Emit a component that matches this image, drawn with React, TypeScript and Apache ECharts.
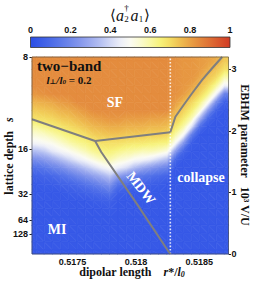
import React, { useEffect, useRef } from 'react';
import * as echarts from 'echarts';

// axis ticks
const dipolarTicks = [0.5175, 0.518, 0.5185];
const ebhmTicks = [0, 1, 2, 3];
const depthLabels = [8, 16, 32, 64, 128];
const depthAtEbhm = [3.2, 1.706, 0.97, 0.547, 0.317];
const colorbarTicks = [0, 0.2, 0.4, 0.6, 0.8, 1];

const X_MIN = 0.51718;
const X_MAX = 0.51873;
const Y_MIN = 0;
const Y_MAX = 3.2;

// phase boundaries (dipolar length, EBHM parameter)
const sfMiX = [0.51718, 0.517678];
const sfMiY = [2.188, 1.836];
const sfMdwX = [0.517678, 0.518271];
const sfMdwY = [1.836, 1.977];
const sfCollapseX = [0.518271, 0.518311, 0.518376, 0.518443, 0.518522, 0.518601, 0.51868];
const sfCollapseY = [1.977, 2.23, 2.42, 2.611, 2.827, 3.017, 3.2];
const mdwMiX = [0.517678, 0.517726, 0.517995, 0.518258, 0.518271];
const mdwMiY = [1.836, 1.657, 0.85, 0.037, 0];
const collapseX = [0.518271, 0.518271];
const collapseY = [0, 3.2];

// <a2+ a1> sampled on a 24 x 24 grid (cell centres), rows from top (large V/U) to bottom
const corrRows = [
  [0.84, 0.84, 0.84, 0.84, 0.84, 0.84, 0.84, 0.84, 0.84, 0.84, 0.84, 0.84, 0.84, 0.84, 0.84, 0.84, 0.84, 0.83, 0.82, 0.82, 0.81, 0.80, 0.78, 0.73],
  [0.84, 0.84, 0.84, 0.84, 0.84, 0.84, 0.84, 0.84, 0.84, 0.84, 0.84, 0.84, 0.84, 0.84, 0.84, 0.84, 0.84, 0.83, 0.82, 0.82, 0.81, 0.78, 0.74, 0.69],
  [0.84, 0.84, 0.84, 0.84, 0.84, 0.84, 0.84, 0.84, 0.84, 0.84, 0.84, 0.84, 0.84, 0.84, 0.84, 0.84, 0.84, 0.83, 0.82, 0.82, 0.79, 0.74, 0.70, 0.59],
  [0.84, 0.84, 0.84, 0.84, 0.84, 0.84, 0.84, 0.84, 0.84, 0.84, 0.84, 0.84, 0.84, 0.84, 0.84, 0.84, 0.84, 0.83, 0.82, 0.80, 0.75, 0.70, 0.61, 0.46],
  [0.82, 0.83, 0.84, 0.84, 0.84, 0.84, 0.84, 0.84, 0.84, 0.84, 0.84, 0.84, 0.84, 0.84, 0.84, 0.84, 0.84, 0.83, 0.81, 0.76, 0.71, 0.63, 0.47, 0.18],
  [0.77, 0.78, 0.79, 0.81, 0.82, 0.84, 0.84, 0.84, 0.84, 0.84, 0.84, 0.84, 0.84, 0.84, 0.84, 0.84, 0.84, 0.81, 0.76, 0.71, 0.64, 0.50, 0.21, 0.06],
  [0.73, 0.74, 0.75, 0.77, 0.78, 0.80, 0.82, 0.84, 0.84, 0.84, 0.84, 0.84, 0.84, 0.84, 0.84, 0.84, 0.84, 0.77, 0.72, 0.66, 0.54, 0.26, 0.07, 0.04],
  [0.69, 0.70, 0.71, 0.73, 0.74, 0.76, 0.78, 0.80, 0.81, 0.82, 0.82, 0.81, 0.81, 0.81, 0.80, 0.80, 0.79, 0.73, 0.67, 0.58, 0.32, 0.09, 0.04, 0.04],
  [0.61, 0.64, 0.66, 0.68, 0.70, 0.72, 0.74, 0.76, 0.77, 0.78, 0.78, 0.77, 0.77, 0.77, 0.76, 0.76, 0.75, 0.68, 0.60, 0.42, 0.11, 0.04, 0.04, 0.04],
  [0.54, 0.56, 0.59, 0.62, 0.65, 0.67, 0.69, 0.72, 0.73, 0.74, 0.74, 0.73, 0.73, 0.73, 0.72, 0.72, 0.71, 0.60, 0.48, 0.16, 0.04, 0.04, 0.04, 0.04],
  [0.47, 0.49, 0.51, 0.55, 0.59, 0.62, 0.64, 0.67, 0.69, 0.69, 0.69, 0.68, 0.67, 0.67, 0.66, 0.65, 0.64, 0.49, 0.24, 0.05, 0.04, 0.04, 0.04, 0.04],
  [0.34, 0.37, 0.43, 0.47, 0.50, 0.54, 0.58, 0.62, 0.64, 0.65, 0.63, 0.61, 0.60, 0.58, 0.58, 0.56, 0.52, 0.26, 0.08, 0.04, 0.04, 0.04, 0.04, 0.04],
  [0.22, 0.25, 0.29, 0.34, 0.39, 0.44, 0.48, 0.53, 0.57, 0.59, 0.55, 0.53, 0.49, 0.47, 0.44, 0.39, 0.34, 0.09, 0.04, 0.04, 0.04, 0.04, 0.04, 0.04],
  [0.12, 0.14, 0.18, 0.21, 0.26, 0.30, 0.35, 0.40, 0.45, 0.49, 0.45, 0.41, 0.34, 0.29, 0.25, 0.21, 0.18, 0.04, 0.04, 0.04, 0.04, 0.04, 0.04, 0.04],
  [0.07, 0.08, 0.09, 0.12, 0.15, 0.19, 0.23, 0.27, 0.31, 0.36, 0.27, 0.22, 0.17, 0.14, 0.12, 0.10, 0.08, 0.04, 0.04, 0.04, 0.04, 0.04, 0.04, 0.04],
  [0.04, 0.05, 0.05, 0.07, 0.08, 0.10, 0.13, 0.16, 0.20, 0.24, 0.13, 0.11, 0.08, 0.07, 0.06, 0.05, 0.04, 0.04, 0.04, 0.04, 0.04, 0.04, 0.04, 0.04],
  [0.04, 0.04, 0.04, 0.04, 0.05, 0.06, 0.07, 0.09, 0.11, 0.14, 0.06, 0.05, 0.04, 0.04, 0.04, 0.04, 0.04, 0.04, 0.04, 0.04, 0.04, 0.04, 0.04, 0.04],
  [0.04, 0.04, 0.04, 0.04, 0.04, 0.04, 0.04, 0.05, 0.06, 0.07, 0.04, 0.04, 0.04, 0.04, 0.04, 0.04, 0.04, 0.04, 0.04, 0.04, 0.04, 0.04, 0.04, 0.04],
  [0.04, 0.04, 0.04, 0.04, 0.04, 0.04, 0.04, 0.04, 0.04, 0.05, 0.04, 0.04, 0.04, 0.04, 0.04, 0.04, 0.04, 0.04, 0.04, 0.04, 0.04, 0.04, 0.04, 0.04],
  [0.04, 0.04, 0.04, 0.04, 0.04, 0.04, 0.04, 0.04, 0.04, 0.04, 0.04, 0.04, 0.04, 0.04, 0.04, 0.04, 0.04, 0.04, 0.04, 0.04, 0.04, 0.04, 0.04, 0.04],
  [0.04, 0.04, 0.04, 0.04, 0.04, 0.04, 0.04, 0.04, 0.04, 0.04, 0.04, 0.04, 0.04, 0.04, 0.04, 0.04, 0.04, 0.04, 0.04, 0.04, 0.04, 0.04, 0.04, 0.04],
  [0.04, 0.04, 0.04, 0.04, 0.04, 0.04, 0.04, 0.04, 0.04, 0.04, 0.04, 0.04, 0.04, 0.04, 0.04, 0.04, 0.04, 0.04, 0.04, 0.04, 0.04, 0.04, 0.04, 0.04],
  [0.04, 0.04, 0.04, 0.04, 0.04, 0.04, 0.04, 0.04, 0.04, 0.04, 0.04, 0.04, 0.04, 0.04, 0.04, 0.04, 0.04, 0.04, 0.04, 0.04, 0.04, 0.04, 0.04, 0.04],
  [0.04, 0.04, 0.04, 0.04, 0.04, 0.04, 0.04, 0.04, 0.04, 0.04, 0.04, 0.04, 0.04, 0.04, 0.04, 0.04, 0.04, 0.04, 0.04, 0.04, 0.04, 0.04, 0.04, 0.04],
];

const palette = [
  '#2a4ee6', '#3a5ce7', '#4a6ae8', '#5c79e9', '#7088ea', '#8698ec', '#9dabef',
  '#b5c0f2', '#d2d8f5', '#eceef8', '#fbfbf2', '#fafad0', '#f9f8a6', '#f7f27a',
  '#f4dc62', '#efbe50', '#e9a145', '#e3873c', '#de6e34', '#d8542c', '#d13a24',
];

const SERIF = '"Liberation Serif", "DejaVu Serif", serif';
const SANS = '"Liberation Sans", Arial, sans-serif';

function hexToRgb(h: string) {
  return [parseInt(h.slice(1, 3), 16), parseInt(h.slice(3, 5), 16), parseInt(h.slice(5, 7), 16)];
}
const paletteRgb = palette.map(hexToRgb);
function cmap(v: number) {
  const t = Math.max(0, Math.min(1, v)) * (paletteRgb.length - 1);
  const k = Math.min(paletteRgb.length - 2, Math.floor(t));
  const f = t - k;
  const a = paletteRgb[k];
  const b = paletteRgb[k + 1];
  const c = a.map((x, n) => Math.round(x + (b[n] - x) * f));
  return `rgb(${c[0]},${c[1]},${c[2]})`;
}

const zip = (xs: number[], ys: number[]) => xs.map((x, k) => [x, ys[k]]);

// shaded triangle: linear field inside the triangle drawn as a linear gradient
function shadedTriangle(p1: number[], p2: number[], p3: number[], v1: number, v2: number, v3: number) {
  const vmin = Math.min(v1, v2, v3);
  const vmax = Math.max(v1, v2, v3);
  let fill: any;
  const e1x = p2[0] - p1[0], e1y = p2[1] - p1[1];
  const e2x = p3[0] - p1[0], e2y = p3[1] - p1[1];
  const det = e1x * e2y - e1y * e2x;
  if (vmax - vmin < 0.004 || Math.abs(det) < 1e-9) {
    fill = cmap((v1 + v2 + v3) / 3);
  } else {
    const d1 = v2 - v1, d2 = v3 - v1;
    const ax = (d1 * e2y - e1y * d2) / det;
    const ay = (e1x * d2 - d1 * e2x) / det;
    const g2 = ax * ax + ay * ay;
    const sx = p1[0] + ((vmin - v1) * ax) / g2;
    const sy = p1[1] + ((vmin - v1) * ay) / g2;
    const ex = p1[0] + ((vmax - v1) * ax) / g2;
    const ey = p1[1] + ((vmax - v1) * ay) / g2;
    const n = Math.max(2, Math.ceil((vmax - vmin) / 0.02));
    const stops = [];
    for (let k = 0; k <= n; k++) stops.push({ offset: k / n, color: cmap(vmin + ((vmax - vmin) * k) / n) });
    fill = new echarts.graphic.LinearGradient(sx, sy, ex, ey, stops, true);
  }
  return {
    type: 'polygon',
    shape: { points: [p1, p2, p3] },
    style: { fill, stroke: fill, lineWidth: 0.7, lineJoin: 'round' },
  };
}

export default function App() {
  const ref = useRef<HTMLDivElement>(null);
  useEffect(() => {
    const chart = echarts.init(ref.current!, undefined, { renderer: 'svg' });
    const NR = corrRows.length;
    const NC = corrRows[0].length;
    const dx = (X_MAX - X_MIN) / NC;
    const dy = (Y_MAX - Y_MIN) / NR;
    // sample locations (cell centres) padded with the plot edges
    const xs = [X_MIN, ...corrRows[0].map((_, i) => X_MIN + (i + 0.5) * dx), X_MAX];
    const ys = [Y_MAX, ...corrRows.map((_, j) => Y_MAX - (j + 0.5) * dy), Y_MIN];
    const val = (jj: number, ii: number) =>
      corrRows[Math.max(0, Math.min(NR - 1, jj - 1))][Math.max(0, Math.min(NC - 1, ii - 1))];
    const cells: number[][] = [];
    for (let jj = 0; jj < ys.length - 1; jj++) {
      for (let ii = 0; ii < xs.length - 1; ii++) {
        cells.push([xs[ii], xs[ii + 1], ys[jj], ys[jj + 1], val(jj, ii), val(jj, ii + 1), val(jj + 1, ii), val(jj + 1, ii + 1)]);
      }
    }

    const lineSeries = (lx: number[], ly: number[], color: string, width: number, type: any = 'solid') => ({
      type: 'line',
      xAxisIndex: 0,
      yAxisIndex: 1,
      data: zip(lx, ly),
      symbol: 'none',
      silent: true,
      z: 5,
      lineStyle: { color, width, type, cap: 'butt' },
    });

    const txt = (x: number, y: number, text: string, extra: any = {}, rotation = 0) => ({
      type: 'text', x, y, rotation, z: 10,
      style: {
        text, fontFamily: SERIF, fontWeight: 'bold', fontSize: 14, fill: '#fff',
        align: 'center', verticalAlign: 'middle', textAlign: 'center', textVerticalAlign: 'middle',
        ...extra,
      },
    });

    const option: any = {
      animation: false,
      backgroundColor: '#fff',
      grid: [
        { left: 32, top: 57, width: 196.5, height: 197, show: true, borderColor: 'rgba(70,70,70,0.6)', borderWidth: 1, backgroundColor: 'transparent', z: 10 },
        { left: 30.5, top: 37, width: 199.5, height: 10.5 },
      ],
      xAxis: [
        {
          type: 'value', gridIndex: 0, min: X_MIN, max: X_MAX, position: 'bottom',
          axisLine: { show: false }, splitLine: { show: false },
          axisTick: { show: false },
          axisLabel: { customValues: dipolarTicks, margin: 3, fontFamily: SANS, fontWeight: 'bold', fontSize: 9, color: '#111' },
        },
        {
          type: 'value', gridIndex: 1, min: 0, max: 1, position: 'top',
          axisLine: { show: false }, splitLine: { show: false }, axisTick: { show: false },
          axisLabel: { customValues: colorbarTicks, margin: 3, fontFamily: SANS, fontWeight: 'bold', fontSize: 9, color: '#111' },
        },
      ],
      yAxis: [
        {
          type: 'value', gridIndex: 0, min: Y_MIN, max: Y_MAX, position: 'left',
          axisLine: { show: false }, splitLine: { show: false },
          axisTick: { show: true, customValues: depthAtEbhm, length: 2.5, lineStyle: { color: '#222' } },
          axisLabel: {
            customValues: depthAtEbhm, margin: 4, fontFamily: SANS, fontWeight: 'bold', fontSize: 9, color: '#111',
            formatter: (v: number) => {
              const k = depthAtEbhm.findIndex((p) => Math.abs(p - v) < 1e-6);
              return k >= 0 ? String(depthLabels[k]) : '';
            },
          },
        },
        {
          type: 'value', gridIndex: 0, min: Y_MIN, max: Y_MAX, position: 'right',
          axisLine: { show: false }, splitLine: { show: false },
          axisTick: { show: true, customValues: ebhmTicks, length: 2.5, lineStyle: { color: '#222' } },
          axisLabel: { customValues: ebhmTicks, margin: 3, fontFamily: SANS, fontWeight: 'bold', fontSize: 9, color: '#111' },
        },
        { type: 'value', gridIndex: 1, min: 0, max: 1, show: false },
      ],
      series: [
        {
          type: 'custom',
          xAxisIndex: 0,
          yAxisIndex: 1,
          silent: true,
          z: 1,
          data: cells,
          renderItem: (params: any, api: any) => {
            const x0 = api.value(0), x1 = api.value(1), yT = api.value(2), yB = api.value(3);
            const vTL = api.value(4), vTR = api.value(5), vBL = api.value(6), vBR = api.value(7);
            const TL = api.coord([x0, yT]);
            const TR = api.coord([x1, yT]);
            const BL = api.coord([x0, yB]);
            const BR = api.coord([x1, yB]);
            const children =
              Math.abs(vTL - vBR) <= Math.abs(vTR - vBL)
                ? [shadedTriangle(TL, TR, BR, vTL, vTR, vBR), shadedTriangle(TL, BR, BL, vTL, vBR, vBL)]
                : [shadedTriangle(TL, TR, BL, vTL, vTR, vBL), shadedTriangle(TR, BR, BL, vTR, vBR, vBL)];
            return { type: 'group', children };
          },
        },
        lineSeries(collapseX, collapseY, 'rgba(255,255,255,0.85)', 1.6, [1.6, 1.8]),
        lineSeries(sfMiX, sfMiY, '#7f7f7f', 2),
        lineSeries(sfMdwX, sfMdwY, '#7f7f7f', 2),
        lineSeries(sfCollapseX, sfCollapseY, '#7f7f7f', 2),
        lineSeries(mdwMiX, mdwMiY, '#7f7f7f', 2),
      ],
      graphic: [
        {
          type: 'rect', shape: { x: 30.5, y: 37, width: 199.5, height: 10.5 }, z: 10,
          style: {
            fill: new echarts.graphic.LinearGradient(0, 0, 1, 0, palette.map((c, k) => ({ offset: k / (palette.length - 1), color: c }))),
            stroke: '#333', lineWidth: 0.8,
          },
        },
        // colorbar title <a2^dagger a1>
        txt(113, 15, '⟨', { fontWeight: 'normal', fontSize: 15, fill: '#111' }),
        txt(120, 15, 'a', { fontStyle: 'italic', fontWeight: 'normal', fontSize: 16, fill: '#111' }),
        txt(126.5, 8, '†', { fontWeight: 'normal', fontSize: 9, fill: '#000' }),
        txt(126.5, 19, '2', { fontWeight: 'normal', fontSize: 9, fill: '#111' }),
        txt(134.5, 15, 'a', { fontStyle: 'italic', fontWeight: 'normal', fontSize: 16, fill: '#111' }),
        txt(141, 19, '1', { fontWeight: 'normal', fontSize: 9, fill: '#111' }),
        txt(147, 15, '⟩', { fontWeight: 'normal', fontSize: 15, fill: '#111' }),
        // axis titles
        {
          type: 'text', x: 132, y: 272, z: 10,
          style: {
            text: '{b|dipolar length}{b|    }{i|r}{b|*/}{i|l}{s|0}',
            align: 'center', verticalAlign: 'middle', textAlign: 'center', textVerticalAlign: 'middle',
            rich: {
              b: { fontFamily: SERIF, fontWeight: 'bold', fontSize: 12, fill: '#111', color: '#111' },
              i: { fontFamily: SERIF, fontWeight: 'bold', fontStyle: 'italic', fontSize: 12, fill: '#111', color: '#111' },
              s: { fontFamily: SERIF, fontWeight: 'bold', fontStyle: 'italic', fontSize: 8, fill: '#111', color: '#111', verticalAlign: 'bottom' },
            },
          },
        },
        {
          type: 'text', x: 8.5, y: 156, rotation: Math.PI / 2, z: 10,
          style: {
            text: '{b|lattice depth}{b|   }{i|s}',
            align: 'center', verticalAlign: 'middle', textAlign: 'center', textVerticalAlign: 'middle',
            rich: {
              b: { fontFamily: SERIF, fontWeight: 'bold', fontSize: 12, fill: '#111', color: '#111' },
              i: { fontFamily: SERIF, fontWeight: 'bold', fontStyle: 'italic', fontSize: 12, fill: '#111', color: '#111' },
            },
          },
        },
        txt(244.5, 155, 'EBHM parameter   10³ V/U', { fontSize: 12, fill: '#111' }, -Math.PI / 2),
        // in-plot labels
        txt(37, 66, 'two−band', { fontSize: 15, fill: '#111', align: 'left', textAlign: 'left' }),
        {
          type: 'text', x: 69, y: 80, z: 10,
          style: {
            text: '{i|l}{s|⊥}{i|/l}{s|0}{b| = 0.2}',
            align: 'center', verticalAlign: 'middle', textAlign: 'center', textVerticalAlign: 'middle',
            rich: {
              b: { fontFamily: SERIF, fontWeight: 'bold', fontSize: 11, fill: '#111', color: '#111' },
              i: { fontFamily: SERIF, fontWeight: 'bold', fontStyle: 'italic', fontSize: 11, fill: '#111', color: '#111' },
              s: { fontFamily: SERIF, fontWeight: 'bold', fontStyle: 'italic', fontSize: 7, fill: '#111', color: '#111', verticalAlign: 'bottom' },
            },
          },
        },
        txt(115, 102, 'SF'),
        txt(141, 188, 'MDW', {}, -0.9),
        txt(201, 177, 'collapse'),
        txt(57, 229.5, 'MI'),
      ],
    };
    chart.setOption(option);
    return () => chart.dispose();
  }, []);
  return <div ref={ref} style={{ position: 'fixed', left: 0, top: 0, width: 253, height: 281, background: '#fff' }} />;
}
